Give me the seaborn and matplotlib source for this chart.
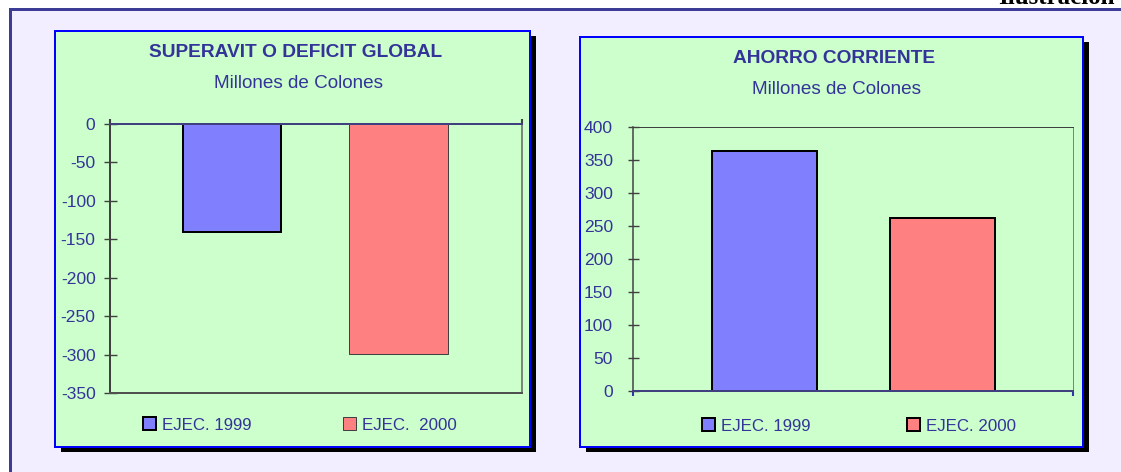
import matplotlib
matplotlib.use("Agg")
import matplotlib.pyplot as plt
import pandas as pd
import seaborn as sns
from matplotlib.patches import Rectangle

# ---- data -------------------------------------------------------------
series_global = ["EJEC. 1999", "EJEC.  2000"]
saldo_global = [-141, -299]

series_ahorro = ["EJEC. 1999", "EJEC. 2000"]
ahorro_corriente = [364, 262]

titles = ["SUPERAVIT O DEFICIT GLOBAL", "AHORRO CORRIENTE"]
subtitle = "Millones de Colones"
yticks_global = list(range(0, -351, -50))
yticks_ahorro = list(range(0, 401, 50))
bar_colors = ["#8080ff", "#ff8080"]

# ---- styling ----------------------------------------------------------
sns.set_style("white")
plt.rcParams["font.family"] = ["Liberation Sans", "DejaVu Sans"]

W, H, DPI = 1121, 472, 100
NAVY = "#333399"
PANEL = "#ccffcc"
PX = 72.0 / DPI  # one pixel in points

fig = plt.figure(figsize=(W / DPI, H / DPI), dpi=DPI)
fig.patch.set_facecolor("white")


def fx(x):
    return x / W


def fy(y):
    return 1 - y / H


def add_rect(x0, y0, x1, y1, z, **kw):
    r = Rectangle((fx(x0), fy(y1)), (x1 - x0) / W, (y1 - y0) / H,
                  transform=fig.transFigure, zorder=z, **kw)
    fig.add_artist(r)
    return r


# page frame
add_rect(9.5, 9.5, 1130, 490, -20, facecolor="#f2eeff",
         edgecolor="#3c3c96", linewidth=3 * PX)
fig.text(fx(998), fy(4.5), "Ilustración", family=["Liberation Serif", "DejaVu Serif"],
         fontweight="bold", fontsize=18, color="black", ha="left", va="baseline")

# chart panels with drop shadow
for (x0, y0, x1, y1) in [(55, 31, 530, 447), (580, 37, 1083, 447)]:
    add_rect(x0 + 6, y0 + 5, x1 + 6, y1 + 5, -15, facecolor="black", edgecolor="none")
    add_rect(x0, y0, x1, y1, -14, facecolor=PANEL, edgecolor="#0000ff",
             linewidth=2 * PX)


def draw_chart(ax_px, labels, values, ylim, yticks, xlim, tick_len, tick_pad,
               zero_top, edge_specs, legend_x, legend_y):
    x0, y0, x1, y1 = ax_px
    ax = fig.add_axes([fx(x0), fy(y1), (x1 - x0) / W, (y1 - y0) / H])
    ax.set_facecolor(PANEL)
    df = pd.DataFrame({"serie": labels, "valor": values})
    sns.barplot(data=df, x="serie", y="valor", hue="serie", palette=bar_colors,
                width=0.59, saturation=1, legend=False, ax=ax)
    for bar, (ec, lw) in zip(ax.patches, edge_specs):
        bar.set_edgecolor(ec)
        bar.set_linewidth(lw * PX)
    ax.set_xlim(*xlim)
    ax.set_ylim(*ylim)
    ax.set_yticks(yticks)
    ax.set_yticklabels([str(t) for t in yticks])
    ax.set_xlabel("")
    ax.set_ylabel("")
    ax.tick_params(axis="y", direction="inout", length=tick_len * PX, width=1,
                   color="#404040", pad=tick_pad * PX, labelsize=12.6,
                   labelcolor=NAVY, left=True)
    ax.set_xticks(list(xlim))
    ax.set_xticklabels(["", ""])
    if zero_top:
        ax.xaxis.set_ticks_position("top")
        ax.tick_params(axis="x", direction="out", length=5 * PX, width=1.5,
                       color="#404040")
        ax.spines["top"].set(color="#404080", linewidth=2 * PX)
        ax.spines["left"].set(color="#404040", linewidth=2 * PX)
        ax.spines["bottom"].set(color="#505050", linewidth=2 * PX)
        ax.spines["right"].set(color="#606060", linewidth=1.5 * PX)
    else:
        ax.xaxis.set_ticks_position("bottom")
        ax.tick_params(axis="x", direction="out", length=5 * PX, width=1.5,
                       color="#3333aa")
        ax.spines["bottom"].set(color="#404080", linewidth=2 * PX)
        ax.spines["left"].set(color="#404040", linewidth=1.5 * PX)
        ax.spines["top"].set(color="#404040", linewidth=1 * PX)
        ax.spines["right"].set(color="#808080", linewidth=1 * PX)

    # one legend entry per series, placed beneath the plot
    for i, (bar, lab) in enumerate(zip(ax.patches, labels)):
        leg = ax.legend(handles=[bar], labels=[lab], loc="center left",
                        bbox_to_anchor=(fx(legend_x[i]), fy(legend_y)),
                        bbox_transform=fig.transFigure, frameon=False,
                        borderpad=0, borderaxespad=0, handlelength=0.765,
                        handleheight=0.765, handletextpad=0.35,
                        prop={"size": 12.2}, labelcolor=NAVY)
        if i == 0:
            ax.add_artist(leg)
    return ax


draw_chart((110, 124, 522, 393), series_global, saldo_global, (-350, 0),
           yticks_global, (-0.733, 1.742), 13, 8, True,
           [("black", 2), ("#404040", 1)], (143, 343), 425)
draw_chart((633, 127, 1073, 391), series_ahorro, ahorro_corriente, (0, 400),
           yticks_ahorro, (-0.739, 1.733), 11, 14.5, False,
           [("black", 2), ("black", 2)], (702, 907), 426)

# chart titles
for cx, by, text, bold, size in [
    (295.5, 57, titles[0], True, 13.8),
    (298, 88, subtitle, False, 13.6),
    (834, 63, titles[1], True, 13.8),
    (836, 94, subtitle, False, 13.6),
]:
    fig.text(fx(cx), fy(by), text, ha="center", va="baseline",
             fontweight="bold" if bold else "normal", fontsize=size, color=NAVY)

fig.savefig("out.png", dpi=DPI)
